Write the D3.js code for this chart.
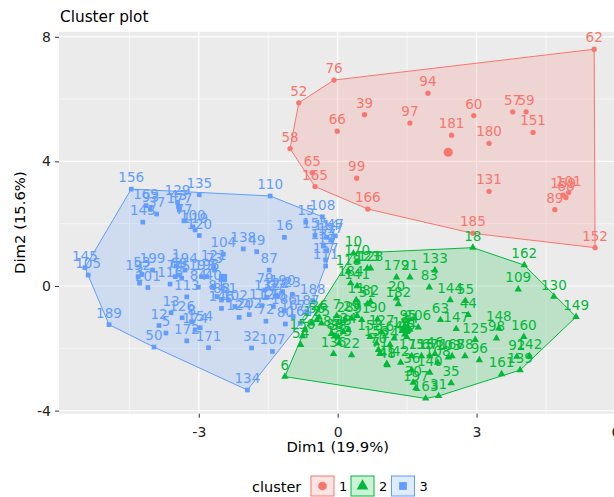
<!DOCTYPE html>
<html>
<head>
<meta charset="utf-8">
<script src="https://cdn.jsdelivr.net/npm/d3@7"></script>
<style>
body { margin: 0; background: #fff; }
text { font-family: "DejaVu Sans", sans-serif; }
</style>
</head>
<body>
<svg width="614" height="497"></svg>
<script>
// [label, Dim1, Dim2]
var cluster1 = [
	["62",5.54,7.60],["76",-0.08,6.61],["52",-0.84,5.88],["94",1.95,6.19],["39",0.58,5.50],
	["97",1.56,5.23],["60",2.94,5.47],["57",3.78,5.59],["59",4.07,5.59],["66",-0.01,4.97],
	["151",4.22,4.93],["181",2.46,4.84],["180",3.27,4.58],["58",-1.03,4.41],["65",-0.55,3.64],
	["99",0.41,3.46],["165",-0.49,3.19],["131",3.27,3.04],["101",4.99,3.00],["159",4.87,2.92],
	["68",4.93,2.84],["89",4.69,2.45],["166",0.65,2.47],["185",2.92,1.69],["152",5.56,1.23]
];
var cluster2 = [
	["10",0.34,1.05],["170",0.42,0.78],["118",0.23,0.46],["184",0.28,0.09],["123",0.64,0.57],
	["128",0.71,0.57],["179",1.27,0.28],["21",1.56,0.28],["133",2.10,0.50],["83",1.98,-0.04],
	["18",2.92,1.23],["162",4.03,0.67],["109",3.90,-0.11],["130",4.67,-0.34],["149",5.15,-0.99],
	["144",2.43,-0.45],["55",2.76,-0.48],["44",2.82,-0.93],["63",2.22,-1.09],["147",2.56,-1.38],
	["125",2.97,-1.73],["148",3.48,-1.36],["98",3.43,-1.68],["160",4.02,-1.63],["142",4.14,-2.25],
	["92",3.87,-2.27],["139",3.94,-2.70],["161",3.54,-2.83],["96",3.06,-2.38],["78",2.75,-2.25],
	["35",2.45,-3.12],["31",2.18,-3.53],["163",1.90,-3.61],["141",0.42,0.00],["11",0.40,-0.45],
	["51",0.64,-0.58],["82",0.71,-0.50],["182",1.31,-0.58],["20",1.27,-0.40],["90",0.86,-1.07],
	["7",-0.02,-0.96],["28",0.16,-1.07],["29",0.30,-1.04],["9",0.42,-0.96],["91",0.52,-1.09],
	["85",-0.13,-1.52],["86",-0.06,-1.61],["38",0.01,-1.65],["33",0.12,-1.47],["34",0.23,-1.41],
	["56",-0.45,-1.09],["26",-0.40,-1.01],["25",-0.35,-1.20],["17",-0.56,-1.20],["2",-0.71,-1.41],
	["150",-0.76,-1.61],["54",-0.80,-1.89],["6",-1.14,-2.91],["136",-0.09,-2.18],["22",0.30,-2.22],
	["183",0.03,-1.84],["158",0.70,-1.63],["153",0.84,-1.84],["70",0.88,-2.05],["71",0.91,-2.18],
	["48",1.07,-2.54],["127",0.95,-1.47],["24",1.13,-1.89],["64",1.22,-1.68],["4",1.49,-1.47],
	["175",1.60,-2.25],["42",1.36,-2.46],["36",1.60,-2.70],["95",1.52,-1.33],["106",1.74,-1.33],
	["45",1.49,-1.63],["115",1.81,-2.25],["67",1.99,-2.25],["46",2.10,-2.18],["103",2.39,-2.29],
	["168",2.47,-2.25],["108",2.16,-2.46],["140",1.99,-2.78],["30",1.63,-3.10],["197",1.69,-3.28],
	["41",1.06,-2.50],["14",1.56,-1.40],["191",1.45,-1.55]
];
var cluster3 = [
	["156",-4.46,3.11],["135",-2.99,2.93],["110",-1.46,2.89],["108",-0.33,2.22],["15",-0.69,2.05],
	["155",-0.49,1.63],["16",-1.15,1.56],["114",-0.24,1.56],["47",-0.05,1.61],["117",-0.15,1.48],
	["137",-0.31,1.28],["19",-0.24,1.13],["157",-0.26,0.83],["111",-0.26,0.64],["188",-0.54,-0.47],
	["145",-5.46,0.59],["105",-5.39,0.35],["189",-4.94,-1.24],["50",-3.97,-1.96],["134",-1.95,-3.34],
	["107",-1.41,-2.10],["32",-1.86,-1.99],["171",-2.79,-1.98],["172",-3.26,-1.76],["5",-3.71,-1.51],
	["12",-3.86,-1.27],["13",-3.60,-0.86],["126",-3.36,-1.02],["154",-2.97,-1.34],["8",-3.15,-1.15],
	["174",-3.08,-1.41],["84",-3.01,-0.04],["113",-3.26,-0.35],["169",-4.14,2.58],["93",-4.05,2.46],
	["37",-3.91,2.31],["143",-4.21,2.05],["129",-3.46,2.69],["43",-3.44,2.55],["177",-3.42,2.44],
	["77",-3.32,2.09],["100",-3.13,1.90],["119",-3.08,1.80],["120",-2.99,1.62],["138",-2.04,1.19],
	["49",-1.75,1.10],["104",-2.47,1.02],["87",-1.48,0.51],["121",-2.68,0.62],["73",-2.66,0.51],
	["79",-1.57,-0.13],["122",-1.33,-0.29],["23",-0.98,-0.27],["27",-1.32,-0.34],["112",-1.64,-0.63],
	["132",-1.53,-0.36],["186",-1.16,-0.80],["80",-1.13,-1.22],["72",-1.55,-1.13],["202",-1.91,-0.92],
	["124",-2.13,-1.01],["102",-2.22,-0.66],["61",-2.36,-0.45],["146",-2.51,-0.72],["81",-2.61,-0.34],
	["40",-2.69,-0.02],["88",-2.51,-0.45],["176",-1.39,-0.66],["190",-1.19,-0.18],["167",-0.96,-0.98],
	["164",-0.81,-1.20],["187",-0.67,-0.82],["192",-4.31,0.30],["53",-4.23,0.37],["3",-4.28,0.09],
	["201",-4.10,-0.05],["199",-4.00,0.51],["116",-3.62,0.06],["74",-3.51,0.30],["69",-3.44,0.35],
	["75",-3.37,0.25],["1",-3.49,0.64],["194",-3.30,0.51],["193",-2.94,0.30],["195",-2.83,0.30]
];
var clusterNames = ["1", "2", "3"];
var clusterColors = ["#F8766D", "#00BA38", "#619CFF"];
var xTicks = [-3, 0, 3, 6];
var xMinor = [-4.5, -1.5, 1.5, 4.5];
var yTicks = [-4, 0, 4, 8];
var yMinor = [-2, 2, 6];

var svg = d3.select("svg");
var x = d3.scaleLinear().domain([-6.02, 6.5]).range([59, 638.6]);
var y = d3.scaleLinear().domain([-4.1, 8.16]).range([413.7, 31.8]);
var shapes = [d3.symbolCircle, d3.symbolTriangle, d3.symbolSquare];
var sizes = [22, 24, 22];
var clusters = [cluster1, cluster2, cluster3];

svg.append("text")
	.attr("x", 60).attr("y", 22)
	.style("font-size", "15.3px")
	.text("Cluster plot");

svg.append("rect")
	.attr("x", 59).attr("y", 31.8)
	.attr("width", 614 - 59).attr("height", 413.7 - 31.8)
	.attr("fill", "#EBEBEB");

var grid = svg.append("g");
grid.selectAll("line.xminor").data(xMinor).enter().append("line")
	.attr("x1", d => x(d)).attr("x2", d => x(d)).attr("y1", 31.8).attr("y2", 413.7)
	.attr("stroke", "#fff").attr("stroke-width", 0.6);
grid.selectAll("line.yminor").data(yMinor).enter().append("line")
	.attr("x1", 59).attr("x2", 614).attr("y1", d => y(d)).attr("y2", d => y(d))
	.attr("stroke", "#fff").attr("stroke-width", 0.6);
grid.selectAll("line.xmajor").data(xTicks).enter().append("line")
	.attr("x1", d => x(d)).attr("x2", d => x(d)).attr("y1", 31.8).attr("y2", 413.7)
	.attr("stroke", "#fff").attr("stroke-width", 1.2);
grid.selectAll("line.ymajor").data(yTicks).enter().append("line")
	.attr("x1", 59).attr("x2", 614).attr("y1", d => y(d)).attr("y2", d => y(d))
	.attr("stroke", "#fff").attr("stroke-width", 1.2);

// hulls
clusters.forEach((c, i) => {
	var hull = d3.polygonHull(c.map(d => [x(d[1]), y(d[2])]));
	svg.append("path")
		.attr("d", "M" + hull.join("L") + "Z")
		.attr("fill", clusterColors[i])
		.attr("fill-opacity", 0.2)
		.attr("stroke", clusterColors[i])
		.attr("stroke-width", 1);
});

// points
clusters.forEach((c, i) => {
	svg.append("g").selectAll("path")
		.data(c)
		.enter()
		.append("path")
		.attr("transform", d => "translate(" + x(d[1]) + "," + y(d[2]) + ")")
		.attr("d", d3.symbol().type(shapes[i]).size(sizes[i]))
		.attr("fill", clusterColors[i]);
});

// labels
clusters.forEach((c, i) => {
	svg.append("g").selectAll("text")
		.data(c)
		.enter()
		.append("text")
		.attr("x", d => x(d[1]))
		.attr("y", d => y(d[2]) - 7)
		.attr("text-anchor", "middle")
		.attr("fill", clusterColors[i])
		.style("font-size", "13.5px")
		.text(d => d[0]);
});

// centroids
clusters.forEach((c, i) => {
	var cx = d3.mean(c, d => d[1]), cy = d3.mean(c, d => d[2]);
	svg.append("path")
		.attr("transform", "translate(" + x(cx) + "," + y(cy) + ")")
		.attr("d", d3.symbol().type(shapes[i]).size(sizes[i] * 3))
		.attr("fill", clusterColors[i]);
});

var xAxis = svg.append("g")
	.attr("transform", "translate(0,413.7)")
	.call(d3.axisBottom(x).tickValues(xTicks).tickFormat(d => String(d)).tickSize(4).tickPadding(9));
var yAxis = svg.append("g")
	.attr("transform", "translate(59,0)")
	.call(d3.axisLeft(y).tickValues(yTicks).tickFormat(d => String(d)).tickSize(4).tickPadding(4));
[xAxis, yAxis].forEach(a => {
	a.select(".domain").remove();
	a.selectAll("line").attr("stroke", "#333");
	a.selectAll("text")
		.attr("fill", "#222")
		.style("font-family", "DejaVu Sans, sans-serif")
		.style("font-size", "14px");
});

svg.append("text")
	.attr("x", 337.7).attr("y", 452)
	.attr("text-anchor", "middle")
	.style("font-size", "14.8px")
	.text("Dim1 (19.9%)");
svg.append("text")
	.attr("transform", "translate(25,222.6) rotate(-90)")
	.attr("text-anchor", "middle")
	.style("font-size", "14.8px")
	.text("Dim2 (15.6%)");

// legend
var legend = svg.append("g");
legend.append("text")
	.attr("x", 252).attr("y", 492)
	.style("font-size", "14.5px")
	.text("cluster");
var keyX = [311, 351, 391.5];
clusterNames.forEach((n, i) => {
	var k = legend.append("g").attr("transform", "translate(" + keyX[i] + ",476)");
	k.append("rect")
		.attr("width", 23).attr("height", 20)
		.attr("fill", clusterColors[i]).attr("fill-opacity", 0.2)
		.attr("stroke", clusterColors[i]).attr("stroke-width", 1);
	k.append("path")
		.attr("transform", "translate(11.5,10)")
		.attr("d", d3.symbol().type(shapes[i]).size(60))
		.attr("fill", clusterColors[i]);
	k.append("text")
		.attr("x", 28).attr("y", 15)
		.style("font-size", "13px")
		.text(n);
});
</script>
</body>
</html>
